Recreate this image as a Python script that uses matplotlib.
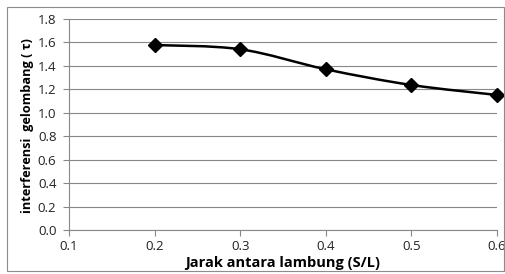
import matplotlib
matplotlib.use("Agg")
import matplotlib.pyplot as plt
from matplotlib.path import Path
from matplotlib.patches import PathPatch, Rectangle
import numpy as np

x_vals = [0.2, 0.3, 0.4, 0.5, 0.6]
y_vals = [1.578, 1.542, 1.371, 1.237, 1.152]
x_ticks = [0.1, 0.2, 0.3, 0.4, 0.5, 0.6]
y_ticks = [0.0, 0.2, 0.4, 0.6, 0.8, 1.0, 1.2, 1.4, 1.6, 1.8]

plt.rcParams['font.family'] = ['Open Sans', 'DejaVu Sans']

fig = plt.figure(figsize=(5.06, 2.74), dpi=100)
fig.patches.append(Rectangle((7/506, 1-271/274), 497/506, 264/274, transform=fig.transFigure,
                             fill=False, edgecolor='#8c8c8c', linewidth=0.8))
ax = fig.add_axes([69/506, 1-230/274, 428/506, 211/274])

ax.set_xlim(0.1, 0.6)
ax.set_ylim(0, 1.8)
ax.set_xticks(x_ticks)
ax.set_yticks(y_ticks)
ax.set_xticklabels([f"{v:.1f}" for v in x_ticks])
ax.set_yticklabels([f"{v:.1f}" for v in y_ticks])
ax.grid(axis='y', color='#888888', linewidth=0.8)
ax.set_axisbelow(True)
for s in ['top', 'right']:
    ax.spines[s].set_visible(False)
for s in ['left', 'bottom']:
    ax.spines[s].set_color('#888888')
    ax.spines[s].set_linewidth(0.8)
ax.tick_params(axis='both', colors='#888888', labelcolor='#222222', labelsize=9.5, length=4, width=0.8)
ax.tick_params(axis='x', pad=3)
ax.tick_params(axis='y', pad=5)

# smoothed line (Catmull-Rom style Bezier through the data points)
xs = np.array(x_vals); ys = np.array(y_vals)
verts = [(xs[0], ys[0])]
codes = [Path.MOVETO]
t = 1/6
for i in range(len(xs)-1):
    p0 = np.array([xs[max(i-1, 0)], ys[max(i-1, 0)]])
    p1 = np.array([xs[i], ys[i]])
    p2 = np.array([xs[i+1], ys[i+1]])
    p3 = np.array([xs[min(i+2, len(xs)-1)], ys[min(i+2, len(xs)-1)]])
    c1 = p1 + (p2 - p0) * t
    c2 = p2 - (p3 - p1) * t
    verts += [tuple(c1), tuple(c2), tuple(p2)]
    codes += [Path.CURVE4]*3
ax.add_patch(PathPatch(Path(verts, codes), fill=False, edgecolor='black', linewidth=1.8, zorder=3))
ax.plot(x_vals, y_vals, linestyle='none', marker='D', markersize=7, color='black', zorder=4, clip_on=False)

ax.set_xlabel("Jarak antara lambung (S/L)", fontsize=10.5, fontweight='bold')
ax.xaxis.set_label_coords((283-69)/428, (230-256)/211)
ax.set_ylabel("interferensi  gelombang ( τ)", fontsize=9.2, fontweight='bold')
ax.yaxis.set_label_coords((34-69)/428, (230-126)/211)

fig.savefig("out.png", dpi=100)
